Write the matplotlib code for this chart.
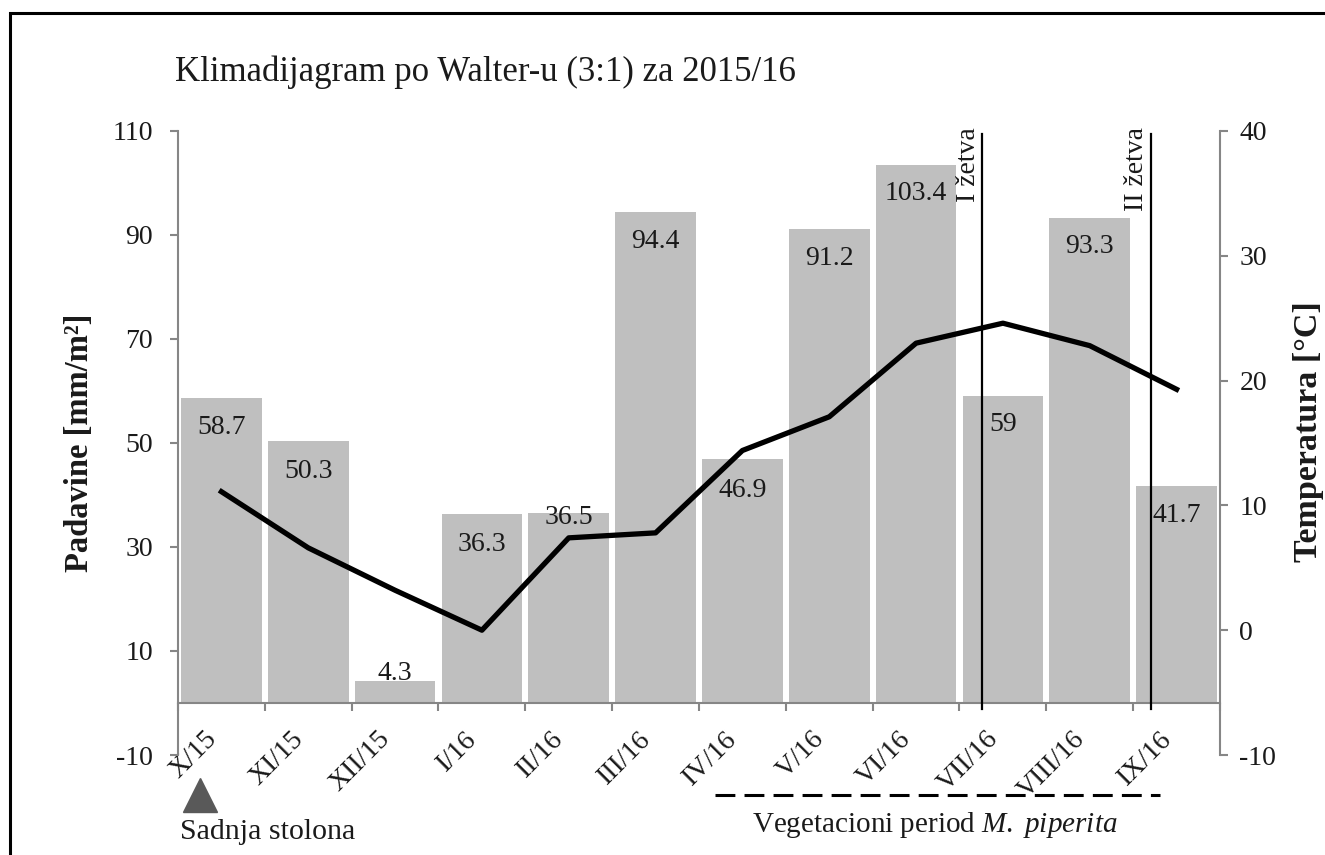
import matplotlib
matplotlib.use('Agg')
import matplotlib.pyplot as plt
from matplotlib.patches import Rectangle
from matplotlib.ticker import FixedLocator
import numpy as np

# ---------------- data ----------------
months = ['X/15', 'XI/15', 'XII/15', 'I/16', 'II/16', 'III/16',
          'IV/16', 'V/16', 'VI/16', 'VII/16', 'VIII/16', 'IX/16']
precip = [58.7, 50.3, 4.3, 36.3, 36.5, 94.4, 46.9, 91.2, 103.4, 59, 93.3, 41.7]
temp = [11.1, 6.6, 3.2, 0.0, 7.4, 7.8, 14.4, 17.1, 23.0, 24.6, 22.8, 19.3]
left_ticks = [-10, 10, 30, 50, 70, 90, 110]
right_ticks = [-10, 0, 10, 20, 30, 40]
harvest_pos = [8.76, 10.70]          # harvest dates on the month axis
harvest_labels = ['I žetva', 'II žetva']
veg_period = [5.69, 10.81]           # vegetation period span on the month axis
planting_pos = -0.25

title = 'Klimadijagram po Walter-u (3:1) za 2015/16'

# ---------------- style ----------------
plt.rcParams['font.family'] = ['Liberation Serif', 'DejaVu Serif']
plt.rcParams['axes.unicode_minus'] = False
plt.rcParams['mathtext.fontset'] = 'custom'
plt.rcParams['mathtext.rm'] = 'Liberation Serif'
plt.rcParams['mathtext.it'] = 'Liberation Serif:italic'
W, H = 1325, 855
GRAY = '#868686'
BAR = '#BFBFBF'
TXT = '#1a1a1a'
label_off_px = [30, 30, -7, 30, 4, 29, 31, 30, 28, 28, 29, 29]

fig = plt.figure(figsize=(W / 100, H / 100), dpi=100)
ax = fig.add_axes([178 / W, (H - 755) / H, 1042 / W, 624 / H])

x = np.arange(len(months))
ax.bar(x, precip, width=0.93, color=BAR, zorder=2)
ax.set_xlim(-0.5, len(months) - 0.5)
ax.set_ylim(-10, 110)
ax.set_yticks(left_ticks)

# bar value labels
for xi, v, off in zip(x, precip, label_off_px):
    ax.annotate(f'{v:g}', (xi, v), xytext=(0, -off * 0.72), textcoords='offset points',
                ha='center', va='center', fontsize=20, color=TXT, zorder=3)

# spines
for s in ['top', 'right']:
    ax.spines[s].set_visible(False)
ax.spines['left'].set_color(GRAY)
ax.spines['left'].set_linewidth(1.5)
ax.spines['bottom'].set_position(('data', 0))
ax.spines['bottom'].set_color(GRAY)
ax.spines['bottom'].set_linewidth(1.5)

ax.tick_params(axis='y', direction='out', length=6, width=1.5, color=GRAY,
               labelsize=20, pad=12, labelcolor=TXT)
ax.set_xticks(x)
ax.set_xticklabels(months, rotation=45, ha='right', va='top', fontsize=20, color=TXT)
ax.tick_params(axis='x', which='major', length=0, pad=17)
ax.xaxis.set_minor_locator(FixedLocator(np.arange(-0.5, len(months), 1.0)))
ax.tick_params(axis='x', which='minor', length=6, width=1.5, color=GRAY, direction='out')

# harvest lines
for hp, hl in zip(harvest_pos, harvest_labels):
    ax.plot([hp, hp], [-1.2, 109.4], color='black', lw=1.6, zorder=4, clip_on=False)
    ax.annotate(hl, (hp, 110.8), xytext=(-10, 0), textcoords='offset points',
                rotation=90, ha='center', va='top', fontsize=20, color=TXT,
                annotation_clip=False)

# temperature axis
ax2 = ax.twinx()
ax2.set_ylim(-10, 40)
ax2.set_yticks(right_ticks)
ax2.plot(x, temp, color='black', lw=3.8, zorder=5)
for s in ['top', 'left', 'bottom']:
    ax2.spines[s].set_visible(False)
ax2.spines['right'].set_color(GRAY)
ax2.spines['right'].set_linewidth(1.5)
ax2.tick_params(axis='y', direction='out', length=6, width=1.5, color=GRAY,
                labelsize=20, pad=8, labelcolor=TXT)

# planting marker and vegetation period (below axis)
ax.plot([planting_pos], [-17.7], marker='^', markersize=24, color='#595959',
        clip_on=False, zorder=6)
ax.plot(veg_period, [-17.7, -17.7], color='black', lw=2.2, dashes=(6.5, 3),
        clip_on=False, zorder=6)

# texts
fig.text(175 / W, 1 - 72 / H, title, fontsize=25, ha='left', va='center', color=TXT)
fig.text(80 / W, 1 - 443 / H, 'Padavine [mm/m²]', rotation=90, fontsize=23.5,
         fontweight='bold', ha='center', va='center', color=TXT)
fig.text(1308 / W, 1 - 432 / H, 'Temperatura [°C]', rotation=90, fontsize=24.5,
         fontweight='bold', ha='center', va='center', color=TXT)
fig.text(180 / W, 1 - 832 / H, 'Sadnja stolona', fontsize=21.5, ha='left', va='center',
         color=TXT)
fig.text(935 / W, 1 - 825 / H, 'Vegetacioni period $\\mathit{M.\\ piperita}$', fontsize=21,
         ha='center', va='center', color=TXT)

# outer border
fig.patches.append(Rectangle((10 / W, -0.05), 1.1, 1 - 13 / H + 0.05,
                             transform=fig.transFigure, fill=False,
                             edgecolor='black', linewidth=2.2))

fig.savefig('out.png', dpi=100)
